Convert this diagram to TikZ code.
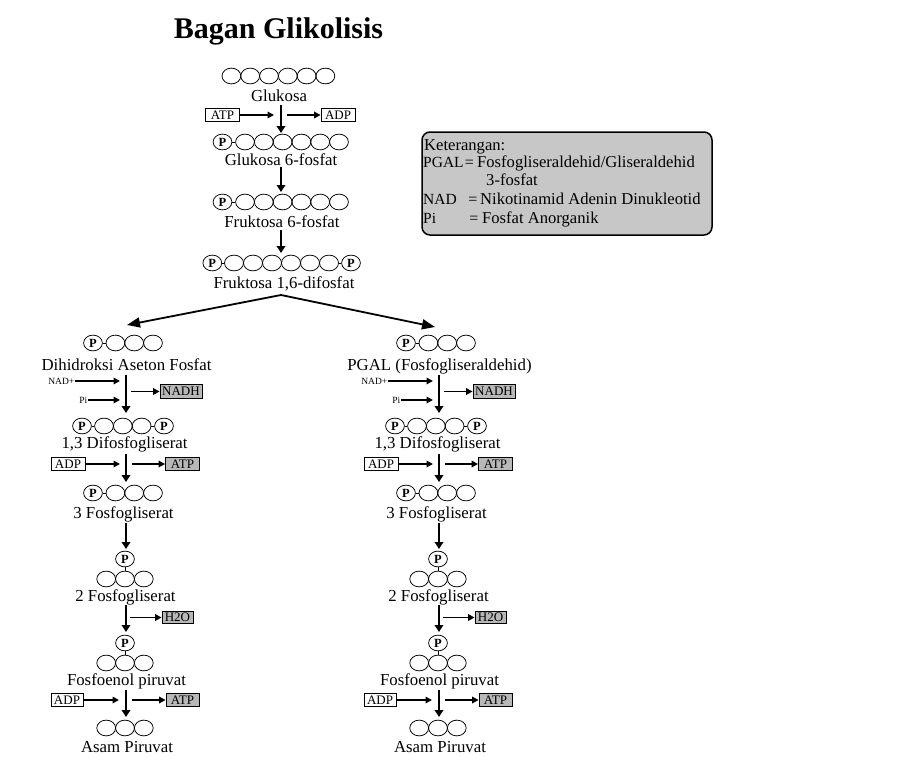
\documentclass[tikz,border=0pt]{standalone}
\usepackage{fontspec}
\setmainfont{Liberation Serif}
\usetikzlibrary{arrows.meta,shapes.geometric}
\definecolor{boxgray}{gray}{0.72}
\definecolor{leggray}{gray}{0.78}
\begin{document}
\begin{tikzpicture}[x=1pt,y=-1pt,
  carb/.style={ellipse,draw,line width=0.75pt,minimum width=18.8pt,minimum height=15.8pt,inner sep=0pt},
  phos/.style={carb,font=\fontsize{12.5}{12.5}\selectfont\bfseries},
  lbl/.style={anchor=base,inner sep=0pt,font=\fontsize{16.8}{16.8}\selectfont},
  leglbl/.style={anchor=base west,inner sep=0pt,font=\fontsize{16.6}{16.6}\selectfont},
  legkey/.style={anchor=base west,inner sep=0pt,font=\fontsize{15.5}{15.5}\selectfont},
  legeq/.style={anchor=base,inner sep=0pt,font=\fontsize{16}{16}\selectfont},
  titlestyle/.style={anchor=base,inner sep=0pt,font=\fontsize{30}{30}\selectfont\bfseries},
  sml/.style={inner sep=0.5pt,font=\fontsize{9.5}{9.5}\selectfont},
  molbox/.style={draw,line width=0.8pt,inner sep=0pt,minimum width=34pt,minimum height=13.5pt,font=\fontsize{13}{13}\selectfont},
  grayed/.style={fill=boxgray},
  linkline/.style={line width=0.75pt},
  varr/.style={line width=2.2pt,-{Triangle[length=7pt,width=8.5pt]}},
  harr/.style={line width=1.6pt,-{Triangle[length=6.5pt,width=6.5pt]}},
  brarr/.style={line width=1.8pt,-{Triangle[length=13pt,width=10pt]}}
]
\useasboundingbox (0,0) rectangle (897,776);
\fill[white] (0,0) rectangle (897,776);

% title
\node[titlestyle] (title) at (278.5,39) {Bagan Glikolisis};

% Glukosa
\foreach \i in {0,...,5} \node[carb] (glu\i) at ({231.4+18.8*\i},76) {};
\node[lbl] (glu) at (279,102) {Glukosa};
\node[molbox] (atp0) at (222.5,115) {ATP};
\node[molbox] (adp0) at (338,115) {ADP};
\coordinate (v0a) at (281,105); \coordinate (v0b) at (281,133);
\coordinate (h0a) at (274,115); \coordinate (h0b) at (287,115);
\draw[varr] (v0a) -- (v0b);
\draw[harr] (atp0) -- (h0a);
\draw[harr] (h0b) -- (adp0);

% Glukosa 6-fosfat
\node[phos] (g6pP) at (222.5,142) {P};
\foreach \i in {0,...,5} \node[carb] (g6p\i) at ({245+18.8*\i},142) {};
\draw[linkline] (g6pP) -- (g6p0);
\node[lbl] (g6p) at (281,165) {Glukosa 6-fosfat};
\coordinate (v1a) at (281,167); \coordinate (v1b) at (281,192);
\draw[varr] (v1a) -- (v1b);

% Fruktosa 6-fosfat
\node[phos] (f6pP) at (222.5,202) {P};
\foreach \i in {0,...,5} \node[carb] (f6p\i) at ({245+18.8*\i},202) {};
\draw[linkline] (f6pP) -- (f6p0);
\node[lbl] (f6p) at (282,227) {Fruktosa 6-fosfat};
\coordinate (v2a) at (281,230); \coordinate (v2b) at (281,253);
\draw[varr] (v2a) -- (v2b);

% Fruktosa 1,6-difosfat
\node[phos] (fbpP1) at (212.3,263) {P};
\foreach \i in {0,...,5} \node[carb,minimum width=19pt] (fbp\i) at ({234+19*\i},263) {};
\node[phos] (fbpP2) at (351,263) {P};
\draw[linkline] (fbpP1) -- (fbp0);
\draw[linkline] (fbp5) -- (fbpP2);
\node[lbl] (fbp) at (284,288) {Fruktosa 1,6-difosfat};

% branch arrows
\coordinate (br) at (281,295);
\coordinate (brL) at (127,325);
\coordinate (brR) at (435,327);
\draw[brarr] (br) -- (brL);
\draw[brarr] (br) -- (brR);

% two branches
\foreach \s/\dx/\name in {L/0pt/{Dihidroksi Aseton Fosfat},R/313pt/{PGAL (Fosfogliseraldehid)}}{
\begin{scope}[xshift=\dx]
  % row 1
  \node[phos] (\s-aP) at (93,343) {P};
  \foreach \i in {0,1,2} \node[carb] (\s-a\i) at ({115.4+18.8*\i},343) {};
  \draw[linkline] (\s-aP) -- (\s-a0);
  \node[lbl] (\s-aL) at (126.5,370) {\name};
  \node[sml,anchor=east] (\s-nad) at (75,381) {NAD+};
  \node[sml,anchor=east] (\s-pi) at (88,400) {Pi};
  \coordinate (\s-nadE) at (120,381);
  \coordinate (\s-piE) at (120,400);
  \draw[harr] (\s-nad) -- (\s-nadE);
  \draw[harr] (\s-pi) -- (\s-piE);
  \coordinate (\s-v1a) at (126,375); \coordinate (\s-v1b) at (126,413);
  \draw[varr] (\s-v1a) -- (\s-v1b);
  \node[molbox,grayed,minimum width=42pt] (\s-nadh) at (181,391.5) {NADH};
  \coordinate (\s-o1) at (131,391.5);
  \draw[harr] (\s-o1) -- (\s-nadh);
  % row 2
  \node[phos] (\s-bP1) at (82,426) {P};
  \foreach \i in {0,1,2} \node[carb] (\s-b\i) at ({104+18.8*\i},426) {};
  \node[phos] (\s-bP2) at (164,426) {P};
  \draw[linkline] (\s-bP1) -- (\s-b0);
  \draw[linkline] (\s-b2) -- (\s-bP2);
  \node[lbl] (\s-bL) at (124.5,448) {1,3 Difosfogliserat};
  \node[molbox] (\s-adp1) at (68,464) {ADP};
  \coordinate (\s-i2) at (120,464);
  \draw[harr] (\s-adp1) -- (\s-i2);
  \coordinate (\s-v2a) at (126,454); \coordinate (\s-v2b) at (126,482);
  \draw[varr] (\s-v2a) -- (\s-v2b);
  \node[molbox,grayed] (\s-atp1) at (182.5,464) {ATP};
  \coordinate (\s-o2) at (132,464);
  \draw[harr] (\s-o2) -- (\s-atp1);
  % row 3
  \node[phos] (\s-cP) at (93,493) {P};
  \foreach \i in {0,1,2} \node[carb] (\s-c\i) at ({115.4+18.8*\i},493) {};
  \draw[linkline] (\s-cP) -- (\s-c0);
  \node[lbl] (\s-cL) at (123.5,518) {3 Fosfogliserat};
  \coordinate (\s-v3a) at (126,523); \coordinate (\s-v3b) at (126,549);
  \draw[varr] (\s-v3a) -- (\s-v3b);
  % row 4
  \node[phos] (\s-dP) at (125,559) {P};
  \foreach \i in {0,1,2} \node[carb] (\s-d\i) at ({106.2+18.8*\i},579) {};
  \draw[linkline] (\s-dP) -- (\s-d1);
  \node[lbl] (\s-dL) at (125.5,601) {2 Fosfogliserat};
  \coordinate (\s-v4a) at (126,605); \coordinate (\s-v4b) at (126,632);
  \draw[varr] (\s-v4a) -- (\s-v4b);
  \node[molbox,grayed,minimum width=31pt,minimum height=12pt] (\s-h2o) at (177.5,617.5) {H2O};
  \coordinate (\s-o4) at (130,617.5);
  \draw[harr] (\s-o4) -- (\s-h2o);
  % row 5
  \node[phos] (\s-eP) at (125,643) {P};
  \foreach \i in {0,1,2} \node[carb] (\s-e\i) at ({106.2+18.8*\i},663) {};
  \draw[linkline] (\s-eP) -- (\s-e1);
  \node[lbl] (\s-eL) at (126.5,685) {Fosfoenol piruvat};
  \node[molbox,minimum width=32pt] (\s-adp2) at (67,700) {ADP};
  \coordinate (\s-i5) at (119,700);
  \draw[harr] (\s-adp2) -- (\s-i5);
  \coordinate (\s-v5a) at (126,690); \coordinate (\s-v5b) at (126,717);
  \draw[varr] (\s-v5a) -- (\s-v5b);
  \node[molbox,grayed,minimum width=33pt] (\s-atp2) at (182.5,700) {ATP};
  \coordinate (\s-o5) at (132,700);
  \draw[harr] (\s-o5) -- (\s-atp2);
  % row 6
  \foreach \i in {0,1,2} \node[carb] (\s-f\i) at ({106.2+18.8*\i},728) {};
  \node[lbl] (\s-fL) at (127,752) {Asam Piruvat};
\end{scope}
}

% legend
\node[draw,line width=1.5pt,rounded corners=8pt,fill=leggray,minimum width=290pt,minimum height=103pt,inner sep=0pt] (leg) at (567,183.5) {};
\node[leglbl] (k0) at (424,150) {Keterangan:};
\node[legkey] (k1a) at (423,167) {PGAL};
\node[legeq] (k1b) at (469.5,167) {=};
\node[leglbl] (k1c) at (477,167) {Fosfogliseraldehid/Gliseraldehid};
\node[leglbl] (k1d) at (486,185) {3-fosfat};
\node[legkey] (k2a) at (423,204) {NAD};
\node[legeq] (k2b) at (473,204) {=};
\node[leglbl] (k2c) at (480,204) {Nikotinamid Adenin Dinukleotid};
\node[legkey] (k3a) at (423,223) {Pi};
\node[legeq] (k3b) at (474,223) {=};
\node[leglbl] (k3c) at (482,223) {Fosfat Anorganik};
\end{tikzpicture}
\end{document}
